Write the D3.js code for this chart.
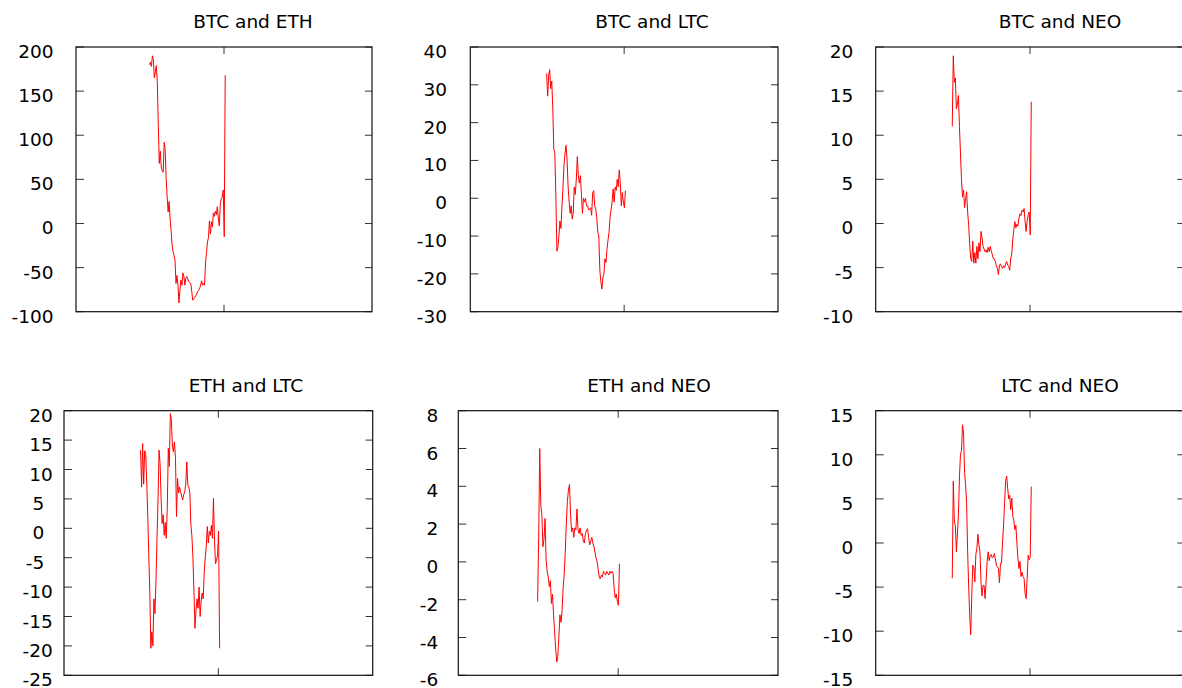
<!DOCTYPE html>
<html>
<head>
<meta charset="utf-8">
<script src="https://cdn.jsdelivr.net/npm/d3@7"></script>
<style>
  html, body { margin: 0; padding: 0; background: #fff; }
  svg { display: block; }
  text { font-family: "DejaVu Sans", Verdana, sans-serif; fill: #000; }
</style>
</head>
<body>
<svg id="chart" width="1182" height="688"></svg>
<script>
// ---------------- data ----------------
const titles = ["BTC and ETH", "BTC and LTC", "BTC and NEO", "ETH and LTC", "ETH and NEO", "LTC and NEO"];

const btcEth = [180,183,178,190,186,165,172,179,160,112,
  68,82,64,60,58,92,84,51,30,13,
  25,5,-8,-24,-32,-36,-42,-68,-59,-70,
  -90,-75,-64,-70,-56,-60,-70,-62,-60,-63,
  -66,-67,-68,-77,-87,-85,-84,-82,-80,-77,
  -76,-74,-70,-65,-70,-68,-70,-45,-33,-21,
  -16,3,-12,2,-4,12,8,14,10,19,
  6,-3,22,28,30,38,-15,168];

const btcLtc = [33,27,32.6,34,29,31,24,13,12,1,
  -14,-13,-10,-6,-8,-2,3,9,12,14,
  10,3,-1,-4,-2,-5.5,-4,3,1,5,
  11,6,4,6,1,-4,0,-1,0,-2,
  -2,-3,-3,-2.5,-4.5,1.5,2,-2,-3,-5,
  -9,-10,-19,-22,-24,-21,-20,-16,-17,-13.5,
  -11,-9,-5,-3,-1,2.5,-1,3,2,5,
  3,7.5,4,-2,1.5,-1,-2.5,2];

const btcNeo = [11,19,16,16.5,13,13.5,14.5,11,8,5,
  3,3.8,1.8,2.8,3.6,1.3,-0.2,-2.4,-4,-4.3,
  -2,-4.5,-3.3,-4.5,-2.6,-4,-2.2,-3.2,-0.9,-1.6,
  -2.6,-2.9,-3.2,-3,-3.3,-2.7,-3.2,-2.6,-3.1,-3.5,
  -4,-4,-4.3,-4.8,-5.1,-5.8,-4.7,-4.6,-4.9,-5.1,
  -4.8,-5,-4.6,-4.3,-4.7,-4.9,-5.3,-4,-3.4,-1.8,
  -0.7,0.2,-0.5,-0.1,-0.3,0.6,1.1,0.9,1.5,1.3,
  1.7,0.2,-0.9,0.3,1,1.3,-1.3,13.8];

const ethLtc = [13.3,7,14.4,7.5,13.2,12.7,7.9,2,-4.5,-11,
  -20.4,-17.6,-20,-12,-14.5,-9,-1.7,4.8,13.3,11,
  5,0.8,2.3,-1.2,1,-1.7,3.4,13.6,10.5,19.5,
  18.5,14,13,14.7,12,2,8.5,6,7,6.2,
  5.5,4.8,5.7,6.2,7.5,11.3,7.4,7,6,0.6,
  -1.3,-5,-10.8,-17,-14,-12,-13.6,-10,-15,-12.4,
  -11,-12,-7.5,-5,-3,0.3,-2.5,-0.5,-1.2,0.5,
  -1.7,5.1,-2,-6,-5.5,-4.5,-0.5,-20.4];

const ethNeo = [-2.1,1.2,6,3,2.5,0.8,1.2,2.3,0.1,-0.5,
  -0.8,-1.3,-1.0,-2.2,-1.7,-2.8,-3.7,-4.6,-5.3,-5,
  -4,-2.8,-3.2,-2.6,-1.4,-0.7,0.5,2,3.2,3.8,
  4.1,2.5,1.6,1.8,1.3,1.8,1.7,2.8,1.7,1.5,
  1.8,1.4,1.5,1.1,1.0,1.5,1.7,1.75,1.3,0.9,
  1.1,1.3,1.0,0.8,0.5,0.2,0,-0.4,-0.8,-0.9,
  -0.7,-0.8,-0.5,-0.6,-0.7,-0.5,-0.6,-0.7,-0.5,-0.6,
  -0.5,-0.6,-1.4,-1.9,-1.7,-2.1,-2.3,-0.1];

const ltcNeo = [-4,7,2.5,2,-1,0.9,3.2,7.5,10,10.5,
  13.4,12.5,8,6.6,4.5,-1,-5,-8.2,-10.4,-6,
  -2.5,-2.7,-4.4,-1.3,-0.6,1,-0.2,-1,-4.4,-6,
  -4.8,-4.8,-6.3,-4.3,-2.1,-1,-2,-1.4,-1.3,-1.7,
  -1.6,-1.2,-1.8,-2.5,-2.7,-2.9,-4.5,-2.3,-2.3,0.1,
  2,4.6,7,7.6,6.2,5,5.4,3.8,5.1,3,
  2.6,1.5,2,0,-1.7,-2.9,-2.1,-3.8,-3.3,-3.8,
  -4,-5.7,-6.3,-4,-1.4,-1.9,-1.6,6.4];

const series = [btcEth, btcLtc, btcNeo, ethLtc, ethNeo, ltcNeo];

// y tick labels per panel
const yTicks = [
  [-100,-50,0,50,100,150,200],
  [-30,-20,-10,0,10,20,30,40],
  [-10,-5,0,5,10,15,20],
  [-25,-20,-15,-10,-5,0,5,10,15,20],
  [-6,-4,-2,0,2,4,6,8],
  [-15,-10,-5,0,5,10,15]
];

// x: fraction of the sampled period (0 = first sample, 1 = last sample)
const xDomain = [-0.969, 2.937];
const xTickValues = [0.984];

// ---------------- layout (positions / styles only) ----------------
const layout = [
  {l:76,    r:372,    t:47,    b:311.7, tx:253,  ty:28,  lx:53.5},
  {l:470.3, r:778,    t:47,    b:311.7, tx:652,  ty:28,  lx:447},
  {l:875.7, r:1184.3, t:47,    b:311.7, tx:1060, ty:28,  lx:853.3},
  {l:64,    r:372.7,  t:410.7, b:675.3, tx:246,  ty:392, lx:44.3, lxWide:52.7},
  {l:458.3, r:778,    t:410.7, b:675.3, tx:649,  ty:392, lx:438.3},
  {l:875.7, r:1184.3, t:410.7, b:675.3, tx:1060, ty:392, lx:853.3}
];
const FONT = 18.5;

const svg = d3.select("#chart");

series.forEach((vals, k) => {
  const L = layout[k];
  const ticks = yTicks[k];
  const x = d3.scaleLinear().domain(xDomain).range([L.l, L.r]);
  const y = d3.scaleLinear().domain(d3.extent(ticks)).range([L.b, L.t]);
  const g = svg.append("g");

  // title
  g.append("text")
    .attr("x", L.tx).attr("y", L.ty)
    .attr("text-anchor", "middle")
    .style("font-size", FONT + "px")
    .text(titles[k]);

  // y tick marks (left inward, right mirror)
  ticks.forEach(v => {
    g.append("line").attr("x1", L.l).attr("x2", L.l + 8)
      .attr("y1", y(v)).attr("y2", y(v))
      .attr("stroke", "#333").attr("stroke-width", 1);
    g.append("line").attr("x1", L.r - 7).attr("x2", L.r)
      .attr("y1", y(v)).attr("y2", y(v))
      .attr("stroke", "#333").attr("stroke-width", 1);
    const wide = L.lxWide && Math.abs(v) >= 10;
    g.append("text")
      .attr("x", wide ? L.lxWide : L.lx)
      .attr("y", y(v) + 11)
      .attr("text-anchor", "end")
      .style("font-size", FONT + "px")
      .text(String(v).replace("-", "-"));
  });

  // x tick marks (top and bottom, inward)
  xTickValues.forEach(v => {
    g.append("line").attr("x1", x(v)).attr("x2", x(v))
      .attr("y1", L.t).attr("y2", L.t + 7)
      .attr("stroke", "#333").attr("stroke-width", 1);
    g.append("line").attr("x1", x(v)).attr("x2", x(v))
      .attr("y1", L.b - 7).attr("y2", L.b)
      .attr("stroke", "#333").attr("stroke-width", 1);
  });

  // data line
  const n = vals.length;
  const line = d3.line()
    .x((d, i) => x(i / (n - 1)))
    .y(d => y(d));
  g.append("path")
    .datum(vals)
    .attr("d", line)
    .attr("fill", "none")
    .attr("stroke", "#ff0000")
    .attr("stroke-width", 1);

  // frame
  g.append("rect")
    .attr("x", L.l).attr("y", L.t)
    .attr("width", L.r - L.l).attr("height", L.b - L.t)
    .attr("fill", "none")
    .attr("stroke", "#111").attr("stroke-width", 1.2);
});
</script>
</body>
</html>
